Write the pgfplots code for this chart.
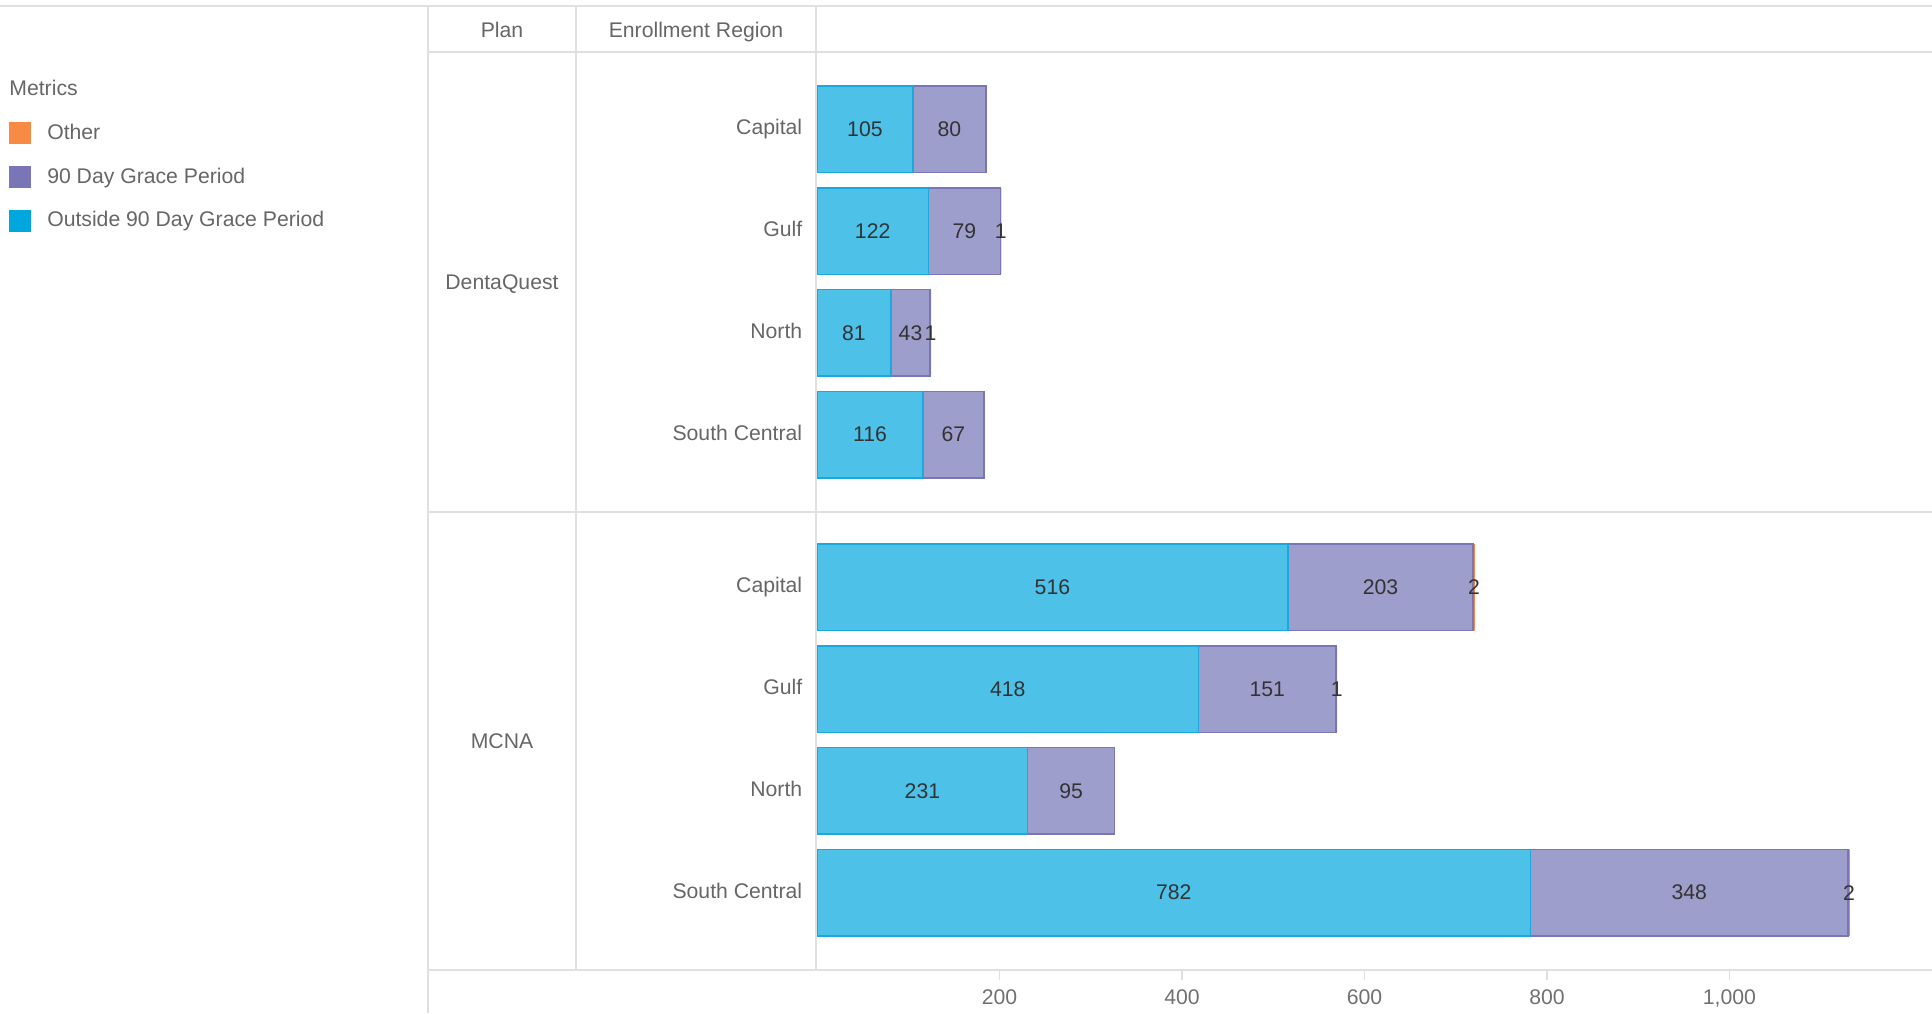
\documentclass[border=0pt]{standalone}
\usepackage{fontspec}
\setmainfont{Liberation Sans}
\usepackage{pgfplots}
\usepackage{pgfplotstable}
\pgfplotsset{compat=1.18}
\definecolor{outfill}{HTML}{4DC1E8}
\definecolor{outline}{HTML}{1AA9DD}
\definecolor{outleg}{HTML}{00A6DE}
\definecolor{grfill}{HTML}{9E9ECC}
\definecolor{grline}{HTML}{7A75B6}
\definecolor{othfill}{HTML}{F78B45}
\definecolor{gridgray}{HTML}{E0E0E0}
\definecolor{txtgray}{HTML}{666666}
\definecolor{tickgray}{HTML}{707070}
\definecolor{lblgray}{HTML}{333333}
\newcommand{\fs}{\fontsize{10.6}{12.7}\selectfont}
% y = row position (top to bottom), out = Outside 90 Day Grace Period, grace = 90 Day Grace Period, other = Other
\pgfplotstableread{
y   out grace other
0   105 80  0
1   122 79  1
2   81  43  1
3   116 67  0
4.5 516 203 2
5.5 418 151 1
6.5 231 95  0
7.5 782 348 2
}\datatable
\begin{document}
\begin{tikzpicture}
\path[use as bounding box] (0,0) rectangle (966pt,506.5pt);
\pgfplotsset{commonax/.style={at={(408.5pt,21.5pt)}, anchor=south west,
  scale only axis, width=557.5pt, height=459pt,
  xmin=0, xmax=1222, ymin=-8.26, ymax=0.76}}
% table frame
\begin{scope}[x=0.5pt, y=-0.5pt, yshift=506.5pt]
  \draw[gridgray, line width=1.2pt] (0,6) -- (1932,6);
  \draw[gridgray, line width=1.2pt] (428,52) -- (1932,52);
  \draw[gridgray, line width=1.2pt] (428,512) -- (1932,512);
  \draw[gridgray, line width=1.2pt] (428,970) -- (1932,970);
  \draw[gridgray, line width=1.2pt] (428,6) -- (428,1013);
  \draw[gridgray, line width=1.2pt] (576,6) -- (576,970);
  \draw[gridgray, line width=1.2pt] (816,6) -- (816,970);
  \node[anchor=base, inner sep=0pt, font=\fs, text=txtgray] at (502,38) {Plan};
  \node[anchor=base, inner sep=0pt, font=\fs, text=txtgray] at (696,38) {Enrollment Region};
  \node[anchor=base, inner sep=0pt, font=\fs, text=txtgray] at (502,290) {DentaQuest};
  \node[anchor=base, inner sep=0pt, font=\fs, text=txtgray] at (502,748) {MCNA};
  \node[anchor=base west, inner sep=0pt, font=\fs, text=txtgray] at (9,96) {Metrics};
\end{scope}
\begin{axis}[commonax, xbar stacked, bar width=0.85,
  axis line style={draw=none},
  xtick={200,400,600,800,1000}, xtick pos=bottom, xtick align=outside,
  major tick length=5pt, x tick style={gridgray, line width=0.6pt},
  ytick={0,-1,-2,-3,-4.5,-5.5,-6.5,-7.5},
  yticklabels={Capital,Gulf,North,South Central,Capital,Gulf,North,South Central},
  ytick pos=left, y tick style={draw=none},
  yticklabel style={anchor=base east, inner sep=0pt, xshift=-7.2pt, yshift=-2.7pt, font=\fs, text=txtgray},
  xticklabel style={anchor=north, inner sep=0pt, yshift=-4.7pt, font=\fs, text=tickgray},
  /pgf/number format/assume math mode=true, /pgf/number format/1000 sep={,},
  legend style={draw=none, fill=none, at={(-0.7246,0.9240)}, anchor=north west,
    inner sep=0pt, row sep=11pt, font=\fs, text=txtgray,
    nodes={inner sep=0pt},
    /tikz/every odd column/.append style={column sep=8pt}},
  legend cell align=left]
\addlegendimage{legend image code/.code={\fill[othfill] (0pt,-5.25pt) rectangle (10.5pt,5.25pt);}}
\addlegendentry{Other}
\addlegendimage{legend image code/.code={\fill[grline] (0pt,-5.25pt) rectangle (10.5pt,5.25pt);}}
\addlegendentry{90 Day Grace Period}
\addlegendimage{legend image code/.code={\fill[outleg] (0pt,-5.25pt) rectangle (10.5pt,5.25pt);}}
\addlegendentry{Outside 90 Day Grace Period}
\addplot[forget plot, fill=outfill, draw=outline, line width=0.7pt] table[x=out, y expr=-\thisrow{y}]{\datatable};
\addplot[forget plot, fill=grfill, draw=grline, line width=0.7pt] table[x=grace, y expr=-\thisrow{y}]{\datatable};
\addplot[forget plot, fill=othfill, draw=none] table[x=other, y expr=-\thisrow{y}]{\datatable};
\end{axis}
\begin{axis}[commonax, hide axis,
  every node near coord/.append style={anchor=center, font=\fs, text=lblgray, inner sep=0pt}]
\addplot[only marks, mark=none, nodes near coords, point meta=explicit symbolic]
  table[x expr=\thisrow{out}/2, y expr=-\thisrow{y}, meta=out]{\datatable};
\addplot[only marks, mark=none, nodes near coords, point meta=explicit symbolic]
  table[x expr=\thisrow{out}+\thisrow{grace}/2, y expr=-\thisrow{y}, meta=grace]{\datatable};
\addplot[only marks, mark=none, nodes near coords, point meta=explicit symbolic,
  restrict expr to domain={\thisrow{other}}{0.5:1000}]
  table[x expr=\thisrow{out}+\thisrow{grace}+\thisrow{other}/2, y expr=-\thisrow{y}, meta=other]{\datatable};
\end{axis}
\end{tikzpicture}
\end{document}
